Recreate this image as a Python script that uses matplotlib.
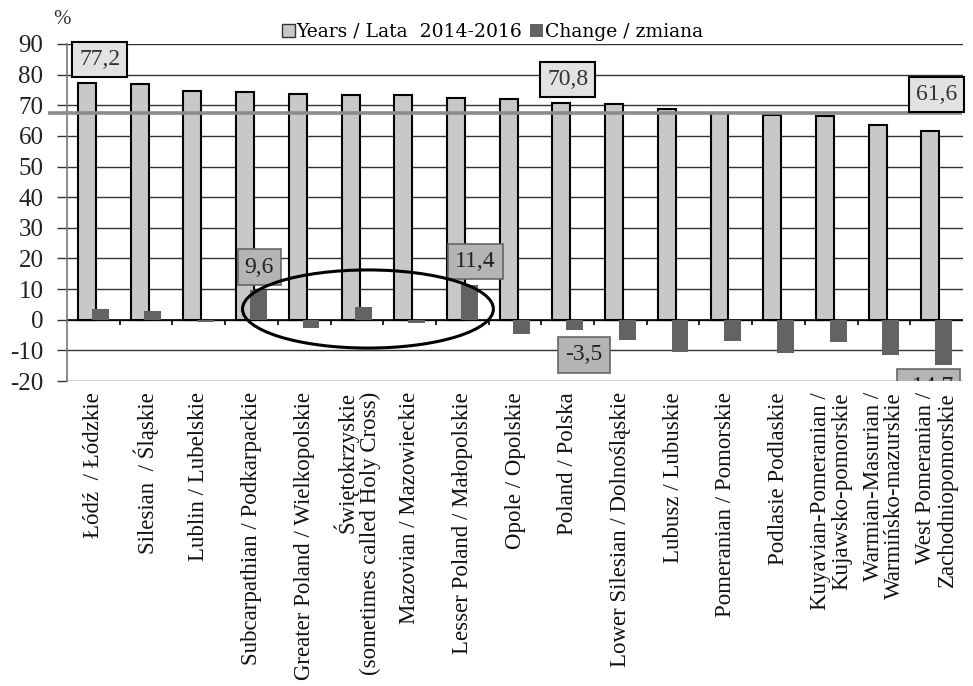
import matplotlib
matplotlib.use("Agg")
import matplotlib.pyplot as plt
from matplotlib.patches import Ellipse, Patch
import numpy as np

categories = [
    "Łódź  / Łódzkie",
    "Silesian  / Śląskie",
    "Lublin / Lubelskie",
    "Subcarpathian / Podkarpackie",
    "Greater Poland / Wielkopolskie",
    "Świętokrzyskie\n(sometimes called Holy Cross)",
    "Mazovian / Mazowieckie",
    "Lesser Poland / Małopolskie",
    "Opole / Opolskie",
    "Poland / Polska",
    "Lower Silesian / Dolnośląskie",
    "Lubusz / Lubuskie",
    "Pomeranian / Pomorskie",
    "Podlasie Podlaskie",
    "Kuyavian-Pomeranian /\nKujawsko-pomorskie",
    "Warmian-Masurian /\nWarmińsko-mazurskie",
    "West Pomeranian /\nZachodniopomorskie",
]
years_2014_2016 = [77.2, 76.9, 74.6, 74.2, 73.6, 73.3, 73.2, 72.5, 72.0, 70.8,
                   70.3, 68.9, 67.6, 66.9, 66.4, 63.7, 61.6]
change = [3.6, 3.0, -0.6, 9.6, -2.6, 4.3, -1.2, 11.4, -4.5, -3.5,
          -6.6, -10.5, -7.1, -11.0, -7.4, -11.5, -14.7]
reference_line = 67.5
yticks = [-20, -10, 0, 10, 20, 30, 40, 50, 60, 70, 80, 90]
legend_labels = ["Years / Lata  2014-2016", "Change / zmiana"]

# annotated values: (category index, x offset, label y position)
annot_years = [(0, 0.12, 84.9), (9, 0.0, 78.5), (16, 0.0, 73.4)]
annot_change = [(3, 0.15, 17.2), (7, 0.25, 18.9), (9, 0.31, -11.5), (16, -0.15, -21.9)]

LIGHT = "#c8c8c8"
DARK = "#636363"
SERIF = ["Liberation Serif", "DejaVu Serif"]

fig = plt.figure(figsize=(9.73, 6.86), dpi=100)
ax = fig.add_axes([67/973, 1-381/686, (963-67)/973, (381-44)/686])

x = np.arange(len(categories))
ax.bar(x - 0.12, years_2014_2016, width=0.34, color=LIGHT, edgecolor="black",
       linewidth=1.5, zorder=3)
ax.bar(x + 0.13, change, width=0.32, color=DARK, edgecolor="none", zorder=4)

ax.set_xlim(-0.5, len(categories) - 0.5)
ax.set_ylim(-20, 90)
ax.set_yticks(yticks)
ax.set_yticklabels([str(v) for v in yticks], fontfamily=SERIF, fontsize=18, color="#222222")
ax.tick_params(axis="y", length=7, width=1, color="#333333", pad=10)
for yv in yticks:
    ax.axhline(yv, color="#333333", lw=1.0, zorder=1)
ax.axhline(0, color="black", lw=1.2, zorder=2)
ax.vlines(np.arange(len(categories) - 1) + 0.5, -1.6, 0, color="black", lw=1.2, zorder=2)

ax.set_xticks(x)
ax.set_xticklabels(categories, rotation=90, fontfamily=SERIF, fontsize=16.5,
                   va="top", ha="center", multialignment="right", color="#111111",
                   linespacing=1.05)
ax.tick_params(axis="x", length=0, pad=8)

for s in ["top", "right", "bottom"]:
    ax.spines[s].set_visible(False)
ax.spines["left"].set_color("#777777")
ax.spines["left"].set_linewidth(1.2)

# reference line
ax.plot([-0.86, 16.48], [reference_line, reference_line], color="#8c8c8c",
        lw=2.6, zorder=5, clip_on=False, solid_capstyle="butt")

for i, dx, ly in annot_years:
    ax.text(i + dx, ly, f"{years_2014_2016[i]:.1f}".replace(".", ","), ha="center", va="center",
            fontfamily=SERIF, fontsize=17, color="#333333", zorder=7,
            bbox=dict(boxstyle="square,pad=0.3", fc="#e2e2e2", ec="black", lw=1.5))
for i, dx, ly in annot_change:
    ax.text(i + dx, ly, f"{change[i]:.1f}".replace(".", ","), ha="center", va="center",
            fontfamily=SERIF, fontsize=17, color="#222222", zorder=7, clip_on=True,
            bbox=dict(boxstyle="square,pad=0.3", fc="#b4b4b4", ec="#666666", lw=1.2))

ell = Ellipse((5.21, 3.5), 4.76, 25.5, fill=False, ec="black", lw=2.2, zorder=8)
ax.add_patch(ell)

handles = [Patch(fc=LIGHT, ec="#333333", lw=1.0), Patch(fc=DARK, ec="none")]
leg = fig.legend(handles, legend_labels, loc="center", bbox_to_anchor=(0.506, 1-32/686),
                 ncol=2, frameon=False, handlelength=0.7, handleheight=0.7,
                 handletextpad=0.1, columnspacing=0.4,
                 prop={"family": ["DejaVu Serif"], "size": 13.5})

fig.text(62/973, 1-20/686, "%", fontfamily=SERIF, fontsize=15, ha="center", va="center",
         color="#333333")

fig.savefig("out.png", dpi=100)
